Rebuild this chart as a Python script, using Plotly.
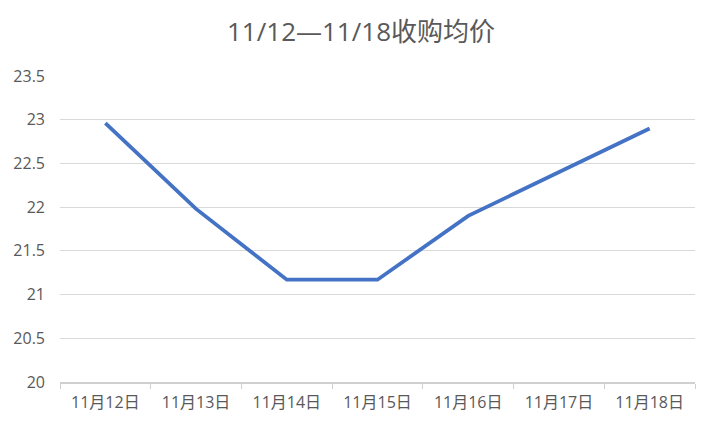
import plotly.graph_objects as go

categories = ["11月12日", "11月13日", "11月14日", "11月15日", "11月16日", "11月17日", "11月18日"]
avg_price = [22.96, 21.98, 21.17, 21.17, 21.9, 22.4, 22.9]
y_ticks = [20, 20.5, 21, 21.5, 22, 22.5, 23, 23.5]
y_tick_text = ["20", "20.5", "21", "21.5", "22", "22.5", "23", "23.5"]
title_text = "11/12—11/18收购均价"

FONT = "Microsoft YaHei, Open Sans, Noto Sans CJK SC, sans-serif"

fig = go.Figure()
fig.add_trace(go.Scatter(
    x=categories, y=avg_price, mode="lines",
    line=dict(color="#4472C4", width=3.8),
    hoverinfo="skip",
))

W, H = 706, 421
fig.update_layout(
    width=W, height=H,
    margin=dict(l=52, r=19, t=68, b=47, autoexpand=False),
    paper_bgcolor="white", plot_bgcolor="white",
    showlegend=False,
    font=dict(family=FONT, color="#595959", size=16),
    title=dict(text=title_text, x=0.5, xanchor="center", y=1 - 23.7 / H, yanchor="middle",
               font=dict(family=FONT, size=26, color="#595959")),
)
fig.update_xaxes(
    type="category", range=[-0.5, 6.5],
    showgrid=False, showline=True, linecolor="#d0d0d0", linewidth=1.5,
    ticks="outside", tickson="boundaries", ticklen=5, tickcolor="#d0d0d0",
    ticklabelstandoff=5,
    tickfont=dict(size=16, color="#595959"),
)
fig.update_yaxes(
    range=[20, 23.5], tickvals=y_ticks, ticktext=y_tick_text,
    showgrid=True, gridcolor="#d9d9d9", gridwidth=1,
    zeroline=False, showline=False, ticks="",
    ticklabelstandoff=14,
    tickfont=dict(size=16, color="#595959"),
)

fig.write_html("out.html")
